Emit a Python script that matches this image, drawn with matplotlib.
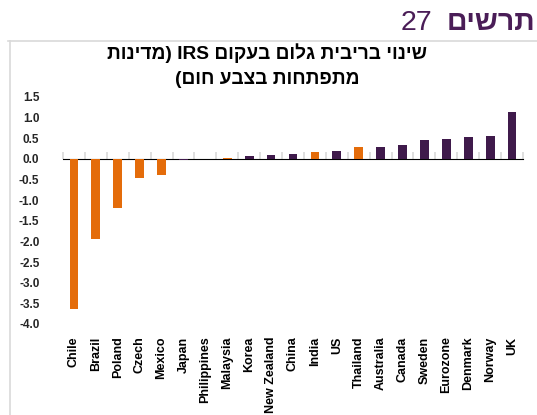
import numpy as np
import matplotlib
matplotlib.use('Agg')
import matplotlib.pyplot as plt
from matplotlib.lines import Line2D

# data
countries = ['Chile', 'Brazil', 'Poland', 'Czech', 'Mexico', 'Japan', 'Philippines',
             'Malaysia', 'Korea', 'New Zealand', 'China', 'India', 'US', 'Thailand',
             'Australia', 'Canada', 'Sweden', 'Eurozone', 'Denmark', 'Norway', 'UK']
change = [-3.63, -1.94, -1.20, -0.47, -0.40, -0.02, 0.0,
          0.03, 0.08, 0.10, 0.13, 0.17, 0.19, 0.28,
          0.28, 0.34, 0.46, 0.48, 0.52, 0.56, 1.13]
emerging = ['Chile', 'Brazil', 'Poland', 'Czech', 'Mexico', 'Philippines',
            'Malaysia', 'India', 'Thailand']
yticks = [1.5, 1.0, 0.5, 0.0, -0.5, -1.0, -1.5, -2.0, -2.5, -3.0, -3.5, -4.0]

# hebrew strings in visual (left-to-right) order
title_l1 = 'תונידמ) IRS םוקעב םולג תיבירב יוניש'
title_l2 = '(םוח עבצב תוחתפתמ'
header_word = 'םישרת'
header_num = '27'

orange = '#E46C0A'
purple = '#3F1A4B'
grey = '#D9D9D9'
font = 'Liberation Sans'

fig = plt.figure(figsize=(5.37, 4.15), dpi=100)
fig.patch.set_facecolor('white')

# header and frame
fig.text(0.997, 0.928, header_word, ha='right', va='baseline', fontsize=20.5,
         fontweight='bold', color='#4A1D57', family=font)
fig.text(0.805, 0.928, header_num, ha='right', va='baseline', fontsize=20.5,
         color='#4A1D57', family=font)
fig.add_artist(Line2D([8/537, 1.0], [1 - 41/415, 1 - 41/415], color=grey, lw=1.2))
fig.add_artist(Line2D([10/537, 10/537], [0, 1 - 41/415], color=grey, lw=1.2))

fig.text(0.497, 0.873, title_l1, ha='center', va='center', fontsize=13.8,
         fontweight='bold', color='black', family=font)
fig.text(0.497, 0.808, title_l2, ha='center', va='center', fontsize=13.8,
         fontweight='bold', color='black', family=font)

ax = fig.add_axes([63/537, 1 - 324/415, 460/537, 227/415])
x = np.arange(len(countries))
colors = [orange if c in emerging else purple for c in countries]
ax.bar(x, change, width=0.4, color=colors, edgecolor='none', zorder=3)

ymin, ymax = -4.0, 1.5
ax.set_ylim(ymin, ymax)
ax.set_xlim(-0.5, len(countries) - 0.5)
ax.set_yticks(yticks)
ax.set_yticklabels([f'{v:.1f}' for v in yticks], fontsize=8.5, fontweight='bold',
                   color='#262626', family=font)
ax.tick_params(axis='y', length=0, pad=17)

ax.set_xticks(x)
ax.set_xticklabels(countries, rotation=90, fontsize=9, fontweight='bold',
                   family=font, va='top')
ax.tick_params(axis='x', length=0, pad=9)

for s in ax.spines.values():
    s.set_visible(False)

# category axis line sits at zero
zero_ax = ax.secondary_xaxis((0 - ymin) / (ymax - ymin))
zero_ax.set_xticks(np.arange(len(countries) + 1) - 0.5)
zero_ax.set_xticklabels([])
zero_ax.tick_params(axis='x', direction='out', length=5, width=1.2, color=grey)
zero_ax.spines['bottom'].set_color(grey)
zero_ax.spines['bottom'].set_linewidth(1.5)

fig.savefig('out.png', dpi=100, facecolor='white')
